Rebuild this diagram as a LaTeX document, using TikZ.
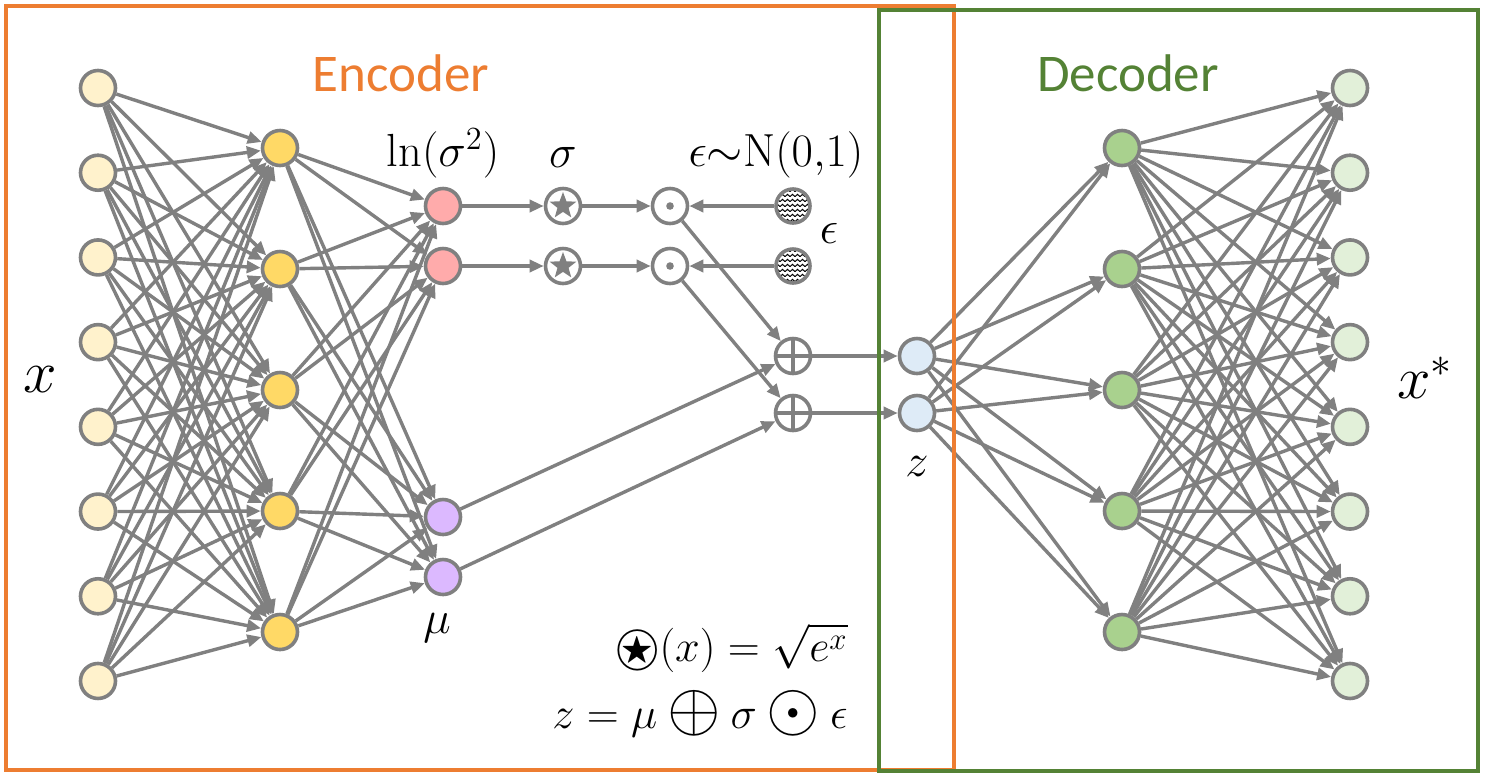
\documentclass[tikz,border=0pt]{standalone}
\usepackage{amssymb}
\usepackage{fontspec}
\newfontfamily\carlito{Carlito}
\usetikzlibrary{arrows.meta,patterns,shapes.geometric}

\pgfdeclarepatternformonly{zigzag}{\pgfpoint{-0.1pt}{-0.1pt}}{\pgfpoint{2.6pt}{2.6pt}}{\pgfpoint{2.5pt}{2.5pt}}{%
  \pgfsetlinewidth{0.5pt}%
  \pgfpathmoveto{\pgfpoint{0pt}{0.7pt}}%
  \pgfpathlineto{\pgfpoint{1.25pt}{1.8pt}}%
  \pgfpathlineto{\pgfpoint{2.5pt}{0.7pt}}%
  \pgfusepath{stroke}%
}

\newcommand\lbt[1]{\scalebox{1.12}{#1}}
\newcommand\lbx[1]{\scalebox{1.45}{#1}}
\newcommand\bigbin[1]{\mathbin{\raisebox{-0.12ex}{\scalebox{1.55}{$#1$}}}}

\definecolor{edge}{RGB}{128,128,128}
\definecolor{inp}{RGB}{255,242,204}
\definecolor{hid}{RGB}{255,217,102}
\definecolor{pinkc}{RGB}{255,171,171}
\definecolor{purp}{RGB}{220,185,255}
\definecolor{zc}{RGB}{222,235,247}
\definecolor{dhid}{RGB}{169,209,142}
\definecolor{outc}{RGB}{226,240,217}
\definecolor{enc}{RGB}{237,125,49}
\definecolor{dec}{RGB}{84,130,53}

\tikzset{
  neuron/.style={circle, draw=edge, line width=1.8pt, minimum size=17.5pt, inner sep=0pt},
  conn/.style={draw=edge, line width=1.7pt, -{Triangle[length=7pt,width=6pt]}},
  starop/.style={neuron, fill=white, path picture={\node[star, star points=5, star point ratio=2.4, fill=edge, inner sep=0pt, minimum size=14pt] at (path picture bounding box.center) {};}},
  dotop/.style={neuron, fill=white, path picture={\fill[edge] (path picture bounding box.center) circle (1.9pt);}},
  plusop/.style={neuron, fill=white, path picture={\draw[edge, line width=1.8pt] (path picture bounding box.north) -- (path picture bounding box.south) (path picture bounding box.west) -- (path picture bounding box.east);}},
  noise/.style={neuron, minimum size=17pt, preaction={fill=white}, pattern=zigzag},
  lbl/.style={inner sep=0pt, font=\fontsize{20.74}{25}\selectfont},
  title/.style={inner sep=0pt, font=\carlito\fontsize{26.5}{30}\selectfont},
  frame/.style={line width=2pt}
}

\begin{document}
\begin{tikzpicture}[x=0.5pt,y=-0.5pt]
\useasboundingbox (0,0) rectangle (1486,778);
\fill[white] (0,0) rectangle (1486,778);

% layers
\foreach \k in {1,...,8} \node[neuron, fill=inp] (i\k) at (98,{88+(\k-1)*84.71}) {};
\foreach \k in {1,...,5} \node[neuron, fill=hid] (h\k) at (280,{148+(\k-1)*121}) {};
\node[neuron, fill=pinkc] (p1) at (443,206) {};
\node[neuron, fill=pinkc] (p2) at (443,266) {};
\node[neuron, fill=purp] (m1) at (443,517) {};
\node[neuron, fill=purp] (m2) at (443,577) {};
\node[starop] (s1) at (563,206) {};
\node[starop] (s2) at (563,266) {};
\node[dotop] (t1) at (670,206) {};
\node[dotop] (t2) at (670,266) {};
\node[noise] (e1) at (793,206) {};
\node[noise] (e2) at (793,266) {};
\node[plusop] (a1) at (793,356) {};
\node[plusop] (a2) at (793,413) {};
\node[neuron, fill=zc] (z1) at (917,356) {};
\node[neuron, fill=zc] (z2) at (917,413) {};
\foreach \k in {1,...,5} \node[neuron, fill=dhid] (d\k) at (1122,{148+(\k-1)*121}) {};
\foreach \k in {1,...,8} \node[neuron, fill=outc] (o\k) at (1350,{88+(\k-1)*84.71}) {};

% connections
\foreach \a in {1,...,8} \foreach \b in {1,...,5} \draw[conn] (i\a) -- (h\b);
\foreach \a in {1,...,5} \foreach \b in {p1,p2,m1,m2} \draw[conn] (h\a) -- (\b);
\foreach \k in {1,2} {
  \draw[conn] (p\k) -- (s\k);
  \draw[conn] (s\k) -- (t\k);
  \draw[conn] (e\k) -- (t\k);
  \draw[conn] (t\k) -- (a\k);
  \draw[conn] (m\k) -- (a\k);
  \draw[conn] (a\k) -- (z\k);
}
\foreach \a in {1,2} \foreach \b in {1,...,5} \draw[conn] (z\a) -- (d\b);
\foreach \a in {1,...,5} \foreach \b in {1,...,8} \draw[conn] (d\a) -- (o\b);

% labels
\node[title, text=enc] (encl) at (401,73) {Encoder};
\node[title, text=dec] (decl) at (1128,73) {Decoder};
\node[lbl] (xl) at (40,380) {\lbx{$x$}};
\node[lbl] (xsl) at (1425,378) {\lbx{$x^{*}$}};
\node[lbl] (lnl) at (443,153) {\lbt{$\ln(\sigma^{2})$}};
\node[lbl] (sigl) at (563,157) {\lbt{$\sigma$}};
\node[lbl] (epsN) at (776,155) {\lbt{$\epsilon{\sim}\mathrm{N}(0{,}1)$}};
\node[lbl] (epsl) at (829,233) {\lbt{$\epsilon$}};
\node[lbl] (mul) at (437,628) {\lbt{$\mu$}};
\node[lbl] (zl) at (917,466) {\lbt{$z$}};
\node[lbl, anchor=east] (f1) at (848,648) {\scalebox{1.07}{\mbox{\ooalign{$\bigcirc$\cr\hidewidth\raisebox{0.15ex}{\scalebox{0.75}{$\bigstar$}}\hidewidth\cr}}$(x)=\sqrt{e^{x}}$}};
\node[lbl, anchor=east] (f2) at (848,714) {\scalebox{1.07}{$z=\mu\bigbin{\oplus}\sigma\bigbin{\odot}\epsilon$}};

% frames
\draw[frame, draw=enc] (6,6) rectangle (954,770);
\draw[frame, draw=dec] (879,10) rectangle (1478,771);
\end{tikzpicture}
\end{document}
